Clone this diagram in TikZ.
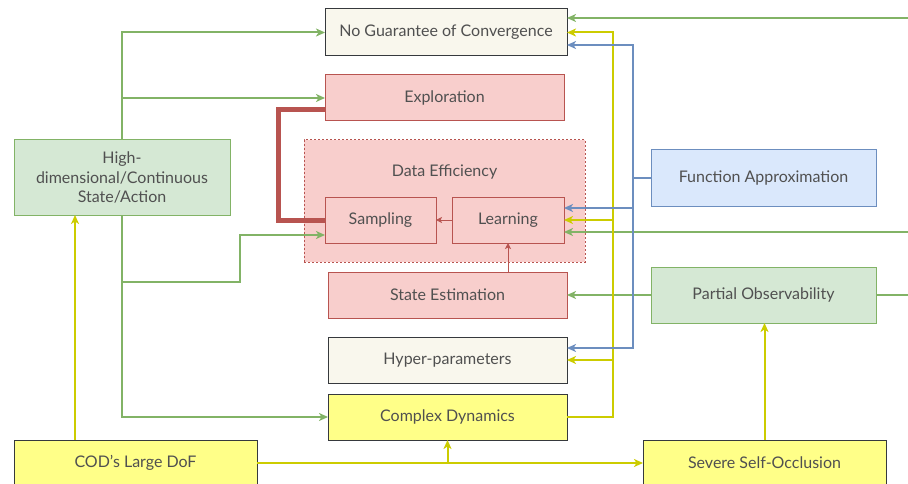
\documentclass[tikz,border=0pt]{standalone}
\usepackage{fontspec}
\setmainfont{Lato}
\usetikzlibrary{arrows.meta,calc}
\definecolor{txt}{HTML}{505050}
\definecolor{beigef}{HTML}{F9F7ED}
\definecolor{darkb}{HTML}{36393D}
\definecolor{redf}{HTML}{F8CECC}
\definecolor{redb}{HTML}{B85450}
\definecolor{greenf}{HTML}{D5E8D4}
\definecolor{greenb}{HTML}{82B366}
\definecolor{bluef}{HTML}{DAE8FC}
\definecolor{blueb}{HTML}{6C8EBF}
\definecolor{yellowf}{HTML}{FFFF88}
\definecolor{yline}{HTML}{CCCC00}
\tikzset{
  box/.style={draw, line width=1pt, inner sep=0pt, outer sep=0pt, align=center,
    text=txt, font=\fontsize{16}{19.5}\selectfont},
  beigebox/.style={box, fill=beigef, draw=darkb},
  redbox/.style={box, fill=redf, draw=redb},
  greenbox/.style={box, fill=greenf, draw=greenb},
  bluebox/.style={box, fill=bluef, draw=blueb},
  yellowbox/.style={box, fill=yellowf, draw=darkb},
  tip/.style={-{Stealth[length=9pt,width=8pt,inset=2.5pt]}},
  gconn/.style={draw=greenb, line width=2pt, tip},
  yconn/.style={draw=yline, line width=2pt, tip},
  bconn/.style={draw=blueb, line width=2pt, tip},
  rconn/.style={draw=redb, line width=1pt, -{Stealth[length=6pt,width=6pt,inset=1.5pt]}},
  rthick/.style={draw=redb, line width=5pt},
}
\begin{document}
\begin{tikzpicture}[x=1pt,y=-1pt]
\useasboundingbox (0,0) rectangle (908,484);
% nodes
\node[beigebox, minimum width=242pt, minimum height=47pt] (ngc) at (446,32.5) {No Guarantee of Convergence};
\node[redbox, minimum width=239pt, minimum height=46pt] (expl) at (444.5,98) {Exploration};
\node[redbox, dashed, dash pattern=on 2pt off 2pt, minimum width=281pt, minimum height=122pt] (de) at (444.5,201) {};
\node[text=txt, font=\fontsize{16}{18}\selectfont, inner sep=0pt] (detxt) at (444.5,172) {Data Efficiency};
\node[redbox, minimum width=111pt, minimum height=46pt] (samp) at (380.5,220) {Sampling};
\node[redbox, minimum width=112pt, minimum height=46pt] (learn) at (508,220) {Learning};
\node[redbox, minimum width=239pt, minimum height=46pt] (se) at (447.5,295) {State Estimation};
\node[beigebox, minimum width=239pt, minimum height=46pt] (hp) at (447.5,360) {Hyper-parameters};
\node[yellowbox, minimum width=239pt, minimum height=46pt] (cd) at (447.5,417) {Complex Dynamics};
\node[greenbox, minimum width=216pt, minimum height=75pt] (hd) at (122,177.5) {High-\\dimensional/Continuous\\State/Action};
\node[bluebox, minimum width=225pt, minimum height=56pt] (fa) at (763.5,178) {Function Approximation};
\node[greenbox, minimum width=225pt, minimum height=56pt] (po) at (763.5,295) {Partial Observability};
\node[yellowbox, minimum width=243pt, minimum height=46pt] (cod) at (135.5,463) {COD's Large DoF};
\node[yellowbox, minimum width=243pt, minimum height=46pt] (sso) at (764.5,463) {Severe Self-Occlusion};
% free ends / bends
\coordinate (r1) at (908,18);
\coordinate (r2) at (908,232);
\coordinate (r3) at (908,295);
\coordinate (yv) at (613,0);
\coordinate (bv) at (633,0);
% red
\draw[rthick] (samp.west) -- (278,220) |- ($(expl.west)+(0,12)$);
\draw[rconn] (learn.west) -- (samp.east);
\draw[rconn] (learn.south |- se.north) -- (learn.south);
% green
\draw[gconn] (hd.north) |- (ngc.west);
\draw[gconn] (hd.north) |- (expl.west);
\draw[gconn] (hd.south) |- (240,282) |- ($(samp.west)+(0,15)$);
\draw[gconn] (hd.south) |- (cd.west);
\draw[gconn] (r1) -- (ngc.east |- r1);
\draw[gconn] (r2) -- (learn.east |- r2);
\draw[gconn] (po.west) -- (se.east);
\draw[draw=greenb, line width=2.8pt] (po.east) -- (r3);
% yellow
\draw[yconn] (cd.east) -| (yv |- ngc.east) -- (ngc.east);
\draw[yconn] (yv |- learn.east) -- (learn.east);
\draw[yconn] (yv |- hp.east) -- (hp.east);
\draw[yconn] ([xshift=61pt]cod.north west) -- ([xshift=61pt]hd.south west);
\draw[yconn] (cod.east) -- (sso.west);
\draw[yconn] (cd.south |- cod.east) -- (cd.south);
\draw[yconn] (sso.north) -- (sso.north |- po.south);
% blue
\draw[draw=blueb, line width=2.8pt] (fa.west) -- (bv |- fa.west);
\draw[bconn] (bv |- fa.west) |- ($(ngc.east)+(0,12.5)$);
\draw[bconn] (bv |- fa.west) |- ($(learn.east)+(0,-12)$);
\draw[bconn] (bv |- fa.west) |- ($(hp.east)+(0,-12)$);
\end{tikzpicture}
\end{document}
